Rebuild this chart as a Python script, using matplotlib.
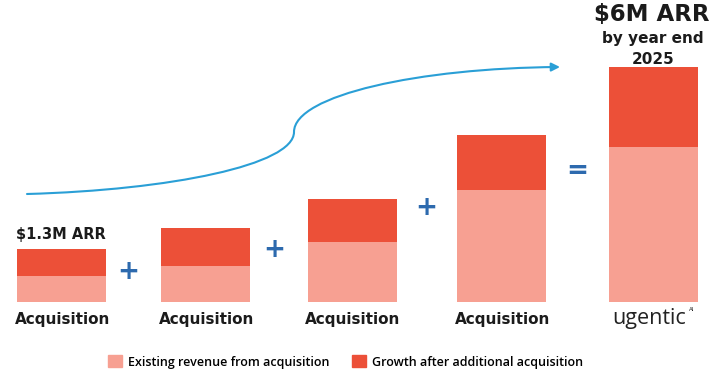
import matplotlib
matplotlib.use("Agg")
import matplotlib.pyplot as plt
from matplotlib.path import Path
from matplotlib.patches import FancyArrowPatch, Patch

# Data ($M ARR)
categories = ["Acquisition", "Acquisition", "Acquisition", "Acquisition", "ugentic"]
existing = [0.66, 0.92, 1.53, 2.86, 3.96]
growth = [0.69, 0.97, 1.10, 1.40, 2.04]
legend_labels = ["Existing revenue from acquisition", "Growth after additional acquisition"]
operators = ["+", "+", "+", "="]

# layout (bar centres in pixel units, horizontal)
bar_x = [61.5, 205.5, 352, 501.5, 653.5]
bar_w = 89

LIGHT = "#F7A092"
DARK = "#EC5038"
BLUE = "#2D6AAE"
TXT = "#1b1b1b"

W, H = 712, 382
fig = plt.figure(figsize=(W / 100, H / 100), dpi=100)
fig.patch.set_facecolor("white")

def fx(px):
    return px / W

def fy(py):
    return 1 - py / H

# axes: full width (x in px); y 0..6 spans py 302..67
ax = fig.add_axes([0, fy(302), 1, (302 - 67) / H])
ax.bar(bar_x, existing, width=bar_w, color=LIGHT, zorder=2)
ax.bar(bar_x, growth, width=bar_w, bottom=existing, color=DARK, zorder=2)
ax.set_xlim(0, W)
ax.set_ylim(0, 6.0)
ax.axis("off")

# category labels
for xi, c in zip(bar_x[:-1], categories[:-1]):
    ax.text(xi + 1, -0.26, c, ha="center", va="top", fontsize=11, fontweight="bold",
            color=TXT, family="DejaVu Sans")
# logo
ax.text(bar_x[-1] - 4, -0.15, categories[-1], ha="center", va="top", fontsize=15.5,
        fontweight="normal", color="#222222", family="Open Sans")
ax.text(bar_x[-1] + 35, -0.12, "AI", ha="left", va="top", fontsize=4, color="#222222")

# operators between bars
op_pos = [(128, 272), (274, 250), (426, 208), (577, 171)]
for op, (px, py) in zip(operators, op_pos):
    fig.text(fx(px), fy(py), op, ha="center", va="center", fontsize=19,
             fontweight="bold", color=BLUE, family="DejaVu Sans")

# annotations
fig.text(fx(61), fy(234), "$1.3M ARR", ha="center", va="center", fontsize=10.5,
         fontweight="bold", color=TXT)
fig.text(fx(652), fy(15), "$6M ARR", ha="center", va="center", fontsize=16.5,
         fontweight="bold", color=TXT)
fig.text(fx(653), fy(39), "by year end", ha="center", va="center", fontsize=11,
         fontweight="bold", color=TXT)
fig.text(fx(653), fy(59), "2025", ha="center", va="center", fontsize=11,
         fontweight="bold", color=TXT)

# growth curve arrow
pts = [(27, 194), (170, 190), (294, 165), (294, 132),
       (294, 95), (420, 68), (560, 67)]
verts = [(fx(a), fy(b)) for a, b in pts]
codes = [Path.MOVETO, Path.CURVE4, Path.CURVE4, Path.CURVE4,
         Path.CURVE4, Path.CURVE4, Path.CURVE4]
arrow = FancyArrowPatch(path=Path(verts, codes), transform=fig.transFigure,
                        arrowstyle="-|>,head_length=5,head_width=2.5",
                        color="#2A9FD6", lw=1.5, mutation_scale=1)
fig.add_artist(arrow)

# legend
handles = [Patch(color=LIGHT), Patch(color=DARK)]
fig.legend(handles, legend_labels, loc="center", bbox_to_anchor=(fx(346), fy(362)),
           ncol=2, frameon=False, handlelength=1.1, handleheight=1.1,
           handletextpad=0.5, columnspacing=1.8,
           prop={"family": "Open Sans", "weight": "semibold", "size": 9})

fig.savefig("out.png", dpi=100, facecolor="white")
